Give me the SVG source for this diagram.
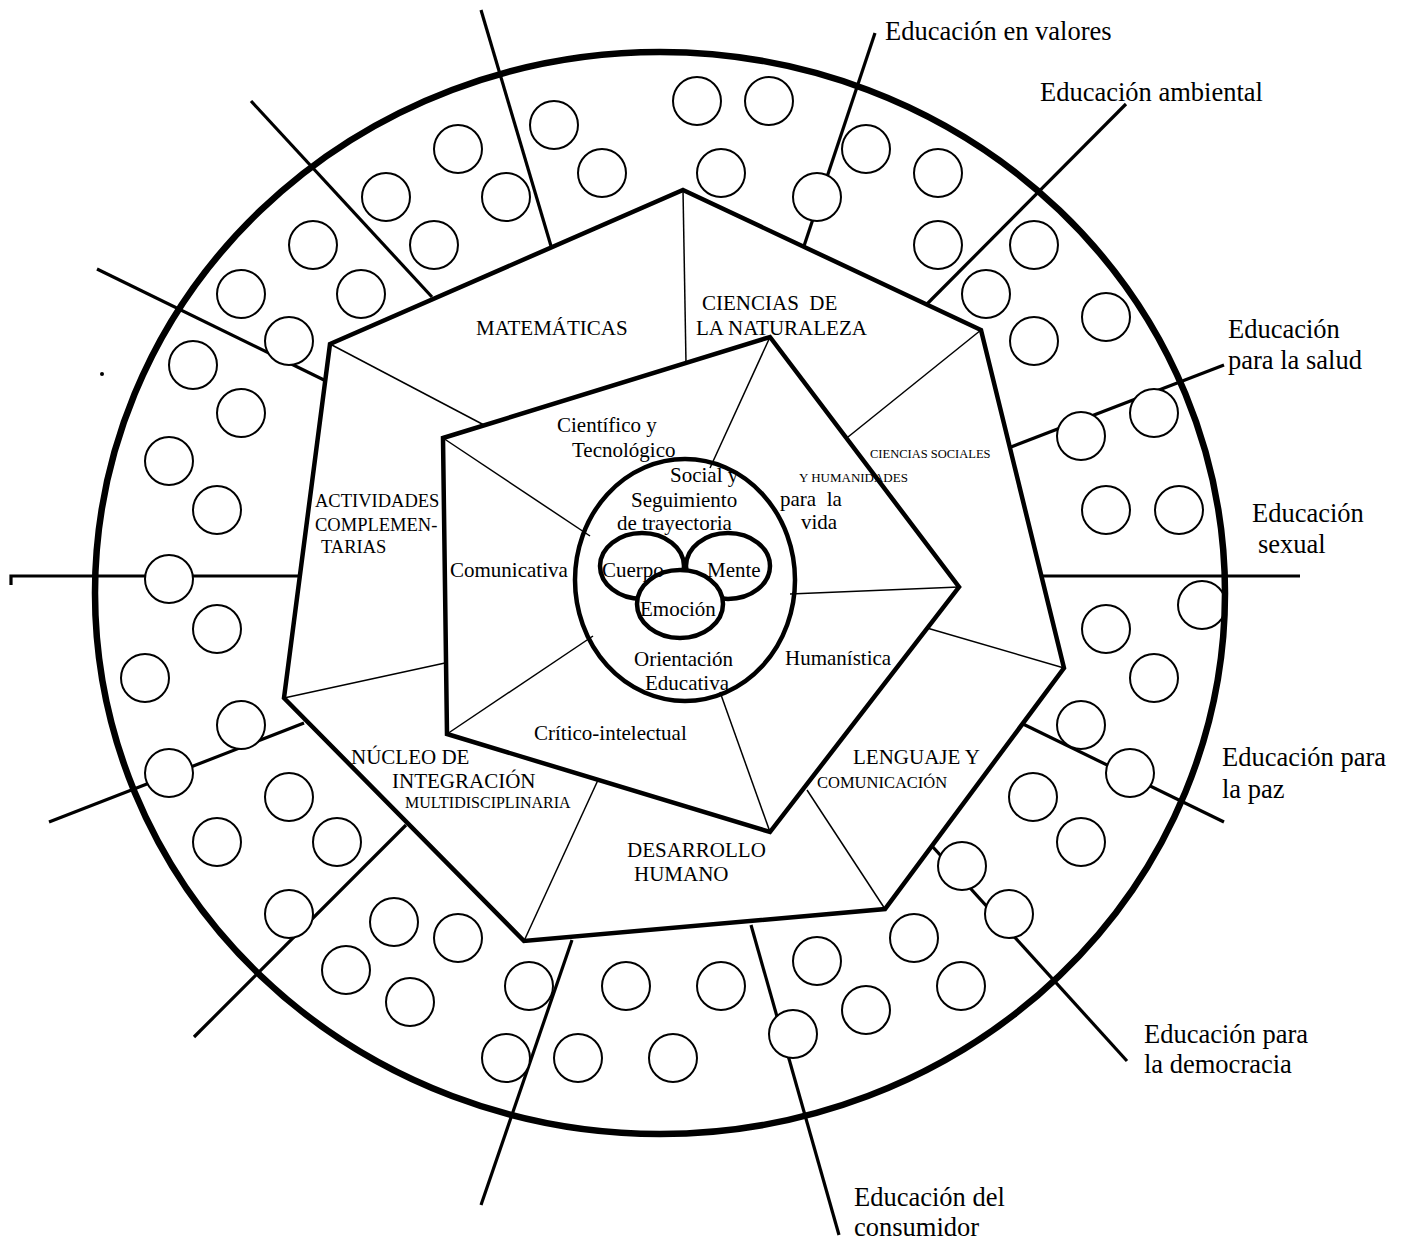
<svg xmlns="http://www.w3.org/2000/svg" width="1404" height="1242" viewBox="0 0 1404 1242">
<style>
text{font-family:"Liberation Serif","Times New Roman",serif;fill:#000}
.edu{font-size:26.5px}
.sec{font-size:21px}
.inn{font-size:21px}
.act{font-size:18.5px}
.radial{stroke:#000;stroke-width:3.2;fill:none;stroke-linecap:butt}
.thin{stroke:#000;stroke-width:1.5;fill:none}
.thick{stroke:#000;stroke-width:4.5;fill:none;stroke-linejoin:miter}
.dot{fill:#fff;stroke:#000;stroke-width:2}
</style>
<rect width="1404" height="1242" fill="#fff"/>

<g id="connectors">
<path class="radial" d="M551 246 L481 10"/>
<path class="radial" d="M432 297 L251 101"/>
<path class="radial" d="M324 380 L97 269"/>
<path class="radial" d="M11 585 L11 576 L298 576"/>
<path class="radial" d="M304 723 L49 822"/>
<path class="radial" d="M406 825 L194 1037"/>
<path class="radial" d="M572 940 L481 1205"/>
<path class="radial" d="M751 925 L839 1235"/>
<path class="radial" d="M932 846 L1127 1061"/>
<path class="radial" d="M1023 724 L1224 822"/>
<path class="radial" d="M1043 576 L1300 576"/>
<path class="radial" d="M1011 447 L1224 365"/>
<path class="radial" d="M927 304 L1126 104"/>
<path class="radial" d="M804 246 L875 33"/>
<path class="thin" d="M683 190 L686 363"/>
<path class="thin" d="M330 344 L484 425"/>
<path class="thin" d="M981 330 L848 437"/>
<path class="thin" d="M1064 668 L927 628"/>
<path class="thin" d="M885 909 L807 790"/>
<path class="thin" d="M524 941 L598 780"/>
<path class="thin" d="M284 698 L445 663"/>
<path class="thin" d="M443 438 L590 536"/>
<path class="thin" d="M770 337 L710 468"/>
<path class="thin" d="M959 587 L790 594"/>
<path class="thin" d="M770 832 L720 692"/>
<path class="thin" d="M447 734 L593 636"/>
</g>

<g id="dots">
<circle class="dot" cx="554" cy="125" r="24"/><circle class="dot" cx="602" cy="173" r="24"/>
<circle class="dot" cx="458" cy="149" r="24"/><circle class="dot" cx="506" cy="197" r="24"/>
<circle class="dot" cx="386" cy="197" r="24"/><circle class="dot" cx="434" cy="245" r="24"/>
<circle class="dot" cx="313" cy="245" r="24"/><circle class="dot" cx="361" cy="294" r="24"/>
<circle class="dot" cx="241" cy="294" r="24"/><circle class="dot" cx="289" cy="341" r="24"/>
<circle class="dot" cx="193" cy="365" r="24"/><circle class="dot" cx="241" cy="413" r="24"/>
<circle class="dot" cx="169" cy="461" r="24"/><circle class="dot" cx="217" cy="510" r="24"/>
<circle class="dot" cx="169" cy="579" r="24"/><circle class="dot" cx="217" cy="629" r="24"/>
<circle class="dot" cx="145" cy="678" r="24"/><circle class="dot" cx="241" cy="725" r="24"/>
<circle class="dot" cx="169" cy="773" r="24"/><circle class="dot" cx="289" cy="797" r="24"/>
<circle class="dot" cx="217" cy="842" r="24"/><circle class="dot" cx="337" cy="842" r="24"/>
<circle class="dot" cx="289" cy="914" r="24"/><circle class="dot" cx="394" cy="922" r="24"/>
<circle class="dot" cx="458" cy="938" r="24"/><circle class="dot" cx="346" cy="970" r="24"/>
<circle class="dot" cx="410" cy="1002" r="24"/><circle class="dot" cx="529" cy="986" r="24"/>
<circle class="dot" cx="506" cy="1058" r="24"/><circle class="dot" cx="626" cy="986" r="24"/>
<circle class="dot" cx="578" cy="1058" r="24"/><circle class="dot" cx="673" cy="1058" r="24"/>
<circle class="dot" cx="721" cy="986" r="24"/><circle class="dot" cx="793" cy="1034" r="24"/>
<circle class="dot" cx="817" cy="961" r="24"/><circle class="dot" cx="866" cy="1010" r="24"/>
<circle class="dot" cx="914" cy="938" r="24"/><circle class="dot" cx="961" cy="986" r="24"/>
<circle class="dot" cx="962" cy="866" r="24"/><circle class="dot" cx="1009" cy="914" r="24"/>
<circle class="dot" cx="1033" cy="797" r="24"/><circle class="dot" cx="1081" cy="842" r="24"/>
<circle class="dot" cx="1081" cy="725" r="24"/><circle class="dot" cx="1130" cy="773" r="24"/>
<circle class="dot" cx="1106" cy="629" r="24"/><circle class="dot" cx="1154" cy="678" r="24"/>
<circle class="dot" cx="1202" cy="605" r="24"/>
<circle class="dot" cx="1106" cy="510" r="24"/><circle class="dot" cx="1179" cy="510" r="24"/>
<circle class="dot" cx="1081" cy="436" r="24"/><circle class="dot" cx="1154" cy="413" r="24"/>
<circle class="dot" cx="1034" cy="341" r="24"/><circle class="dot" cx="1106" cy="317" r="24"/>
<circle class="dot" cx="986" cy="294" r="24"/><circle class="dot" cx="1034" cy="245" r="24"/>
<circle class="dot" cx="938" cy="245" r="24"/><circle class="dot" cx="938" cy="173" r="24"/>
<circle class="dot" cx="866" cy="149" r="24"/><circle class="dot" cx="817" cy="197" r="24"/>
<circle class="dot" cx="721" cy="173" r="24"/><circle class="dot" cx="697" cy="101" r="24"/>
<circle class="dot" cx="769" cy="101" r="24"/>
</g>

<g id="outer-ring">
<ellipse cx="660" cy="593" rx="565" ry="541" fill="none" stroke="#000" stroke-width="6.5"/>
</g>
<circle cx="102" cy="374" r="2" fill="#000"/>

<g id="labels-outer">
<text class="edu" x="885" y="40">Educación en valores</text>
<text class="edu" x="1040" y="101">Educación ambiental</text>
<text class="edu" x="1228" y="338">Educación</text>
<text class="edu" x="1228" y="369">para la salud</text>
<text class="edu" x="1252" y="522">Educación</text>
<text class="edu" x="1258" y="553">sexual</text>
<text class="edu" x="1222" y="766">Educación para</text>
<text class="edu" x="1222" y="798">la paz</text>
<text class="edu" x="1144" y="1043">Educación para</text>
<text class="edu" x="1144" y="1073">la democracia</text>
<text class="edu" x="854" y="1206">Educación del</text>
<text class="edu" x="854" y="1236">consumidor</text>
</g>

<g id="heptagon">
<polygon class="thick" points="683,190 981,330 1064,668 885,909 524,941 284,698 330,344"/>
<text class="sec" x="476" y="335">MATEMÁTICAS</text>
<text class="sec" x="702" y="310">CIENCIAS&#160; DE</text>
<text class="sec" x="696" y="335">LA NATURALEZA</text>
<text x="870" y="458" style="font-size:12.5px">CIENCIAS SOCIALES</text>
<text x="799" y="482" style="font-size:13px">Y HUMANIDADES</text>
<text class="inn" x="780" y="506">para&#160; la</text>
<text class="inn" x="801" y="529">vida</text>
<text class="act" x="315" y="507">ACTIVIDADES</text>
<text class="act" x="315" y="531">COMPLEMEN-</text>
<text class="act" x="321" y="553">TARIAS</text>
<text class="sec" x="351" y="764">NÚCLEO DE</text>
<text class="sec" x="392" y="788">INTEGRACIÓN</text>
<text x="405" y="808" style="font-size:16px">MULTIDISCIPLINARIA</text>
<text class="sec" x="627" y="857">DESARROLLO</text>
<text class="sec" x="634" y="881">HUMANO</text>
<text class="sec" x="853" y="764">LENGUAJE Y</text>
<text x="817" y="788" style="font-size:16.5px">COMUNICACIÓN</text>
</g>

<g id="pentagon">
<polygon class="thick" points="443,438 770,337 959,587 770,832 447,734"/>
<text class="inn" x="557" y="432">Científico y</text>
<text class="inn" x="572" y="457">Tecnológico</text>
<text class="inn" x="450" y="577">Comunicativa</text>
<text class="inn" x="785" y="665">Humanística</text>
<text class="inn" x="534" y="740">Crítico-intelectual</text>
</g>

<g id="center">
<text class="inn" x="670" y="482">Social y</text>
<text class="inn" x="631" y="507">Seguimiento</text>
<text class="inn" x="617" y="530">de trayectoria</text>
<text class="inn" x="634" y="666">Orientación</text>
<text class="inn" x="645" y="690">Educativa</text>
<ellipse cx="685" cy="580" rx="110" ry="121" fill="none" stroke="#000" stroke-width="4.5"/>
</g>

<g id="core">
<ellipse cx="642" cy="566" rx="42" ry="33" fill="none" stroke="#000" stroke-width="4.5"/>
<ellipse cx="728" cy="566" rx="42" ry="33" fill="none" stroke="#000" stroke-width="4.5"/>
<ellipse cx="680" cy="604" rx="43" ry="34" fill="#fff" stroke="#000" stroke-width="4.5"/>
<text class="inn" x="602" y="577">Cuerpo</text>
<text class="inn" x="707" y="577">Mente</text>
<text class="inn" x="640" y="616">Emoción</text>
</g>
</svg>
